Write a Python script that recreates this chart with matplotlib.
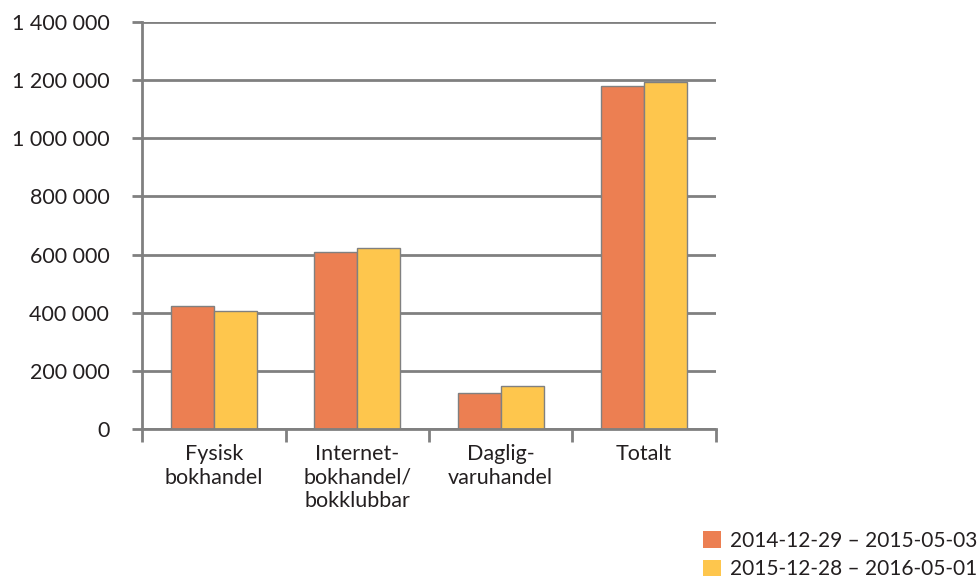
import matplotlib.pyplot as plt
import matplotlib.ticker as mticker
from matplotlib.patches import Patch
import numpy as np

categories = ["Fysisk\nbokhandel", "Internet-\nbokhandel/\nbokklubbar", "Daglig-\nvaruhandel", "Totalt"]
series_names = ["2014-12-29 – 2015-05-03", "2015-12-28 – 2016-05-01"]
values_2015 = [424000, 609000, 123000, 1180000]
values_2016 = [407000, 622000, 147000, 1195000]
yticks = [0, 200000, 400000, 600000, 800000, 1000000, 1200000, 1400000]

colors = ["#EC7F52", "#FEC64D"]
grid_col = "#808080"
text_col = "#231F20"

plt.rcParams['font.family'] = ['Lato', 'DejaVu Sans']

fig = plt.figure(figsize=(9.78, 5.84), dpi=100)
ax = fig.add_axes([0.1452, 0.2654, 0.5869, 0.6969])

x = np.arange(len(categories)) + 0.5
w = 0.30
ax.bar(x - w / 2, values_2015, w, color=colors[0], edgecolor=grid_col, linewidth=1, zorder=3)
ax.bar(x + w / 2, values_2016, w, color=colors[1], edgecolor=grid_col, linewidth=1, zorder=3)

ax.set_xlim(0, len(categories))
ax.set_ylim(0, 1400000)
ax.set_yticks(yticks)
ax.yaxis.set_major_formatter(mticker.FuncFormatter(lambda v, p: f"{int(v):,}".replace(",", " ")))
ax.yaxis.grid(True, color=grid_col, linewidth=2, zorder=0)
ax.tick_params(axis='y', length=7.5, width=2, color=grid_col, labelsize=15.5, pad=16, labelcolor=text_col)

ax.set_xticks(x)
ax.set_xticklabels(categories, fontsize=15.5, color=text_col, linespacing=1.22)
ax.tick_params(axis='x', length=0, pad=11)
ax.set_xticks(np.arange(len(categories) + 1), minor=True)
ax.tick_params(axis='x', which='minor', length=9, width=2, color=grid_col)

for s in ['top', 'right']:
    ax.spines[s].set_visible(False)
for s in ['left', 'bottom']:
    ax.spines[s].set_color(grid_col)
    ax.spines[s].set_linewidth(2)
    ax.spines[s].set_zorder(4)

handles = [Patch(facecolor=c, edgecolor='none') for c in colors]
fig.legend(handles, series_names, loc='lower left', bbox_to_anchor=(0.719, 0.008), frameon=False,
           fontsize=15, handlelength=0.85, handleheight=0.85, handletextpad=0.45,
           labelspacing=0.4, labelcolor=text_col, borderpad=0, borderaxespad=0)

fig.savefig("out.png", dpi=100)
